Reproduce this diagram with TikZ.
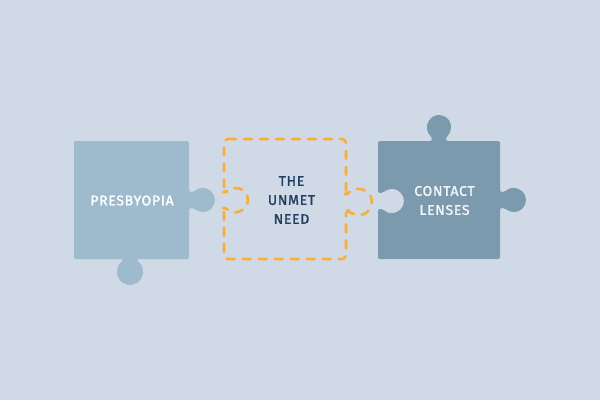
\documentclass[tikz,border=0pt]{standalone}
\usepackage{fontspec}
\setmainfont{Fira Sans}
\newfontfamily\lblfont{Fira Sans}[FakeBold=1.4, LetterSpace=5]
\definecolor{bgc}{HTML}{D0DAE6}
\definecolor{pone}{HTML}{9EBBCE}
\definecolor{pthree}{HTML}{7B9AAE}
\definecolor{dashc}{HTML}{F8AE38}
\definecolor{navy}{HTML}{213F63}
\definecolor{offw}{HTML}{F2F6F9}
\tikzset{
  lbl/.style={font=\lblfont\fontsize{14}{19}\selectfont, align=center, inner sep=0pt},
  dashpiece/.style={draw=dashc, line width=2.6pt, dash pattern=on 8pt off 8pt, line cap=round, line join=round, rounded corners=4pt},
}
\begin{document}
\begin{tikzpicture}[x=1pt,y=-1pt]
\fill[bgc] (0,0) rectangle (600,400);
\useasboundingbox (0,0) rectangle (600,400);
% piece 1
\fill[pone, rounded corners=2pt] (74,141) -- (189,141) -- (189,192) -- (194.06,192)
  arc[start angle=-138.2,end angle=138.2,radius=12] -- (189,208) -- (189,259) -- (137,259) -- (137,261.05)
  arc[start angle=-57.4,end angle=237.4,radius=13] -- (123,259) -- (74,259) -- cycle;
% piece 3
\fill[pthree, rounded corners=2pt] (378,141) -- (432,141) -- (432,136.75)
  arc[start angle=125.7,end angle=414.3,radius=12] -- (446,141) -- (500,141) -- (500,192) -- (505.06,192)
  arc[start angle=-138.2,end angle=138.2,radius=12] -- (500,208) -- (500,259) -- (378,259) -- (378,209) -- (383.06,209)
  arc[start angle=138.2,end angle=-138.2,radius=12] -- (378,193) -- cycle;
% piece 2 (dashed)
\draw[dashpiece] (224,139) -- (346,139) -- (346,194) -- (348.75,194)
  arc[start angle=-142,end angle=142,radius=13] -- (346,210) -- (346,259) -- (224,259) -- (224,208) -- (227.06,208)
  arc[start angle=138.2,end angle=-138.2,radius=12] -- (224,192) -- cycle;
\node[lbl, text=white] (presbyopia) at (132,200.5) {PRESBYOPIA};
\node[lbl, text=navy] (unmet) at (291.5,200) {THE\\UNMET\\NEED};
\node[lbl, text=offw] (contact) at (444.5,200.5) {CONTACT\\LENSES};
\end{tikzpicture}
\end{document}
